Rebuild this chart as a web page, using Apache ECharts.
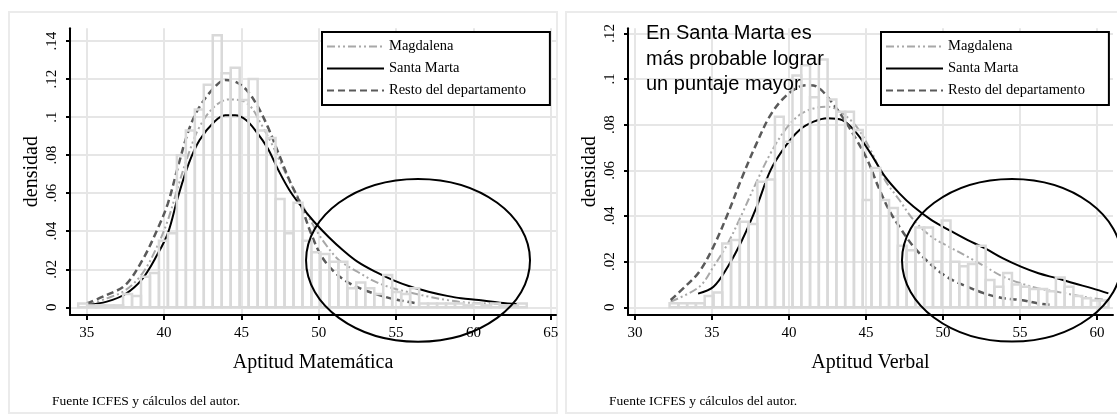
<!DOCTYPE html>
<html>
<head>
<meta charset="utf-8">
<script src="https://cdn.jsdelivr.net/npm/echarts@6/dist/echarts.min.js"></script>
<style>
  html, body { margin: 0; background: #fff; }
  #chart { width: 1117px; height: 417px; }
</style>
</head>
<body>
<div id="chart"></div>
<script>
const seriesNames = ['Magdalena', 'Santa Marta', 'Resto del departamento']

// Aptitud Matemática
const mathTicksX = [35, 40, 45, 50, 55, 60, 65]
const mathTicksY = [0, 0.02, 0.04, 0.06, 0.08, 0.1, 0.12, 0.14]
const mathBinStart = 34.45
const mathBinWidth = 0.58
const mathHist = [0.002, 0.001, 0.001, 0.001, 0.001, 0.007, 0.006, 0.016, 0.018, 0.035,
  0.039, 0.080, 0.093, 0.104, 0.117, 0.143, 0.123, 0.126, 0.109, 0.120,
  0.093, 0.089, 0.057, 0.039, 0.055, 0.035, 0.029, 0.028, 0.024, 0.024,
  0.010, 0.013, 0.010, 0.007, 0.017, 0.008, 0.007, 0.010, 0.002, 0.002,
  0.002, 0.002, 0.002, 0.001, 0.002, 0.001, 0.002, 0.001, 0.001, 0.002]
const mathMagdalena = [[35, 0.0012], [36.3, 0.0047], [37.5, 0.009], [38.6, 0.0178], [39.55, 0.0319],
  [40.25, 0.0459], [40.9, 0.0634], [41.6, 0.081], [42.3, 0.095], [43.25, 0.1055], [44.2, 0.1093],
  [44.9, 0.109], [45.6, 0.1055], [46.25, 0.0967], [46.95, 0.0862], [47.6, 0.0748], [48.3, 0.0634],
  [49.0, 0.0529], [49.7, 0.0424], [50.4, 0.0336], [51.3, 0.0249], [52.5, 0.0187], [53.65, 0.0135],
  [54.8, 0.01], [55.96, 0.0077], [57.1, 0.0056], [58.3, 0.0038], [59.4, 0.0026], [60.6, 0.0021], [61.7, 0.0017]]
const mathSantaMarta = [[35, 0.0012], [36.3, 0.003], [37.5, 0.007], [38.6, 0.015], [39.55, 0.0275],
  [40.25, 0.039], [40.9, 0.058], [41.6, 0.0757], [42.3, 0.088], [43.25, 0.0976], [43.95, 0.101],
  [44.6, 0.101], [45.3, 0.0985], [46.0, 0.092], [46.7, 0.0836], [47.4, 0.072], [48.1, 0.0617],
  [48.8, 0.0538], [49.7, 0.045], [50.64, 0.037], [51.57, 0.030], [52.5, 0.024], [53.65, 0.0187],
  [54.8, 0.0143], [55.96, 0.0108], [57.1, 0.0082], [58.3, 0.006], [59.2, 0.0047], [60.35, 0.0038],
  [61.7, 0.0024], [62.9, 0.0017]]
const mathResto = [[35, 0.002], [36.3, 0.0065], [37.5, 0.0117], [38.6, 0.0248], [39.55, 0.0406],
  [40.25, 0.0547], [40.9, 0.0739], [41.6, 0.0932], [42.3, 0.1055], [43.25, 0.1156], [43.95, 0.1195],
  [44.6, 0.1186], [45.3, 0.1146], [46.0, 0.1064], [46.7, 0.095], [47.4, 0.081], [48.1, 0.0669],
  [48.8, 0.0547], [49.5, 0.0389], [50.2, 0.0266], [51.1, 0.0179], [52.0, 0.0126], [52.96, 0.009],
  [53.9, 0.0065], [54.8, 0.0044], [55.7, 0.003], [56.4, 0.002]]

// Aptitud Verbal
const verbTicksX = [30, 35, 40, 45, 50, 55, 60]
const verbTicksY = [0, 0.02, 0.04, 0.06, 0.08, 0.1, 0.12]
const verbBinStart = 32.25
const verbBinWidth = 0.57
const verbHist = [0.0018, 0.0018, 0.0018, 0.0018, 0.005, 0.0065, 0.028, 0.0295, 0.0375, 0.0365,
  0.055, 0.056, 0.0835, 0.0725, 0.1015, 0.106, 0.092, 0.1085, 0.091, 0.0857,
  0.0857, 0.0777, 0.047, 0.061, 0.047, 0.0435, 0.027, 0.025, 0.035, 0.035,
  0.020, 0.038, 0.020, 0.018, 0.019, 0.027, 0.012, 0.009, 0.015, 0.010,
  0.009, 0.008, 0.008, 0.007, 0.013, 0.009, 0.005, 0.004, 0.003, 0.003]
const verbMagdalena = [[32.32, 0.0025], [34.18, 0.009], [35.1, 0.0178], [36.03, 0.028], [36.96, 0.041],
  [37.9, 0.055], [38.8, 0.0674], [39.74, 0.0776], [40.67, 0.0842], [41.6, 0.0871], [42.5, 0.0879],
  [43.46, 0.085], [44.4, 0.079], [45.3, 0.0689], [46.24, 0.0557], [47.17, 0.047], [48.1, 0.0382],
  [49.26, 0.0309], [50.4, 0.0265], [51.58, 0.0222], [52.74, 0.0178], [53.9, 0.0134], [55.06, 0.0105],
  [56.2, 0.0083], [57.4, 0.0068], [58.5, 0.0054], [59.7, 0.004], [60.63, 0.0032]]
const verbSantaMarta = [[34.1, 0.006], [35.1, 0.009], [36.03, 0.0178], [36.96, 0.0295], [37.9, 0.044],
  [38.8, 0.060], [39.74, 0.0703], [40.67, 0.0776], [41.6, 0.0813], [42.5, 0.0828], [43.46, 0.082],
  [44.4, 0.0762], [45.3, 0.0674], [46.24, 0.0572], [47.17, 0.0499], [48.1, 0.044], [49.26, 0.0382],
  [50.4, 0.0338], [51.58, 0.0295], [52.74, 0.0258], [53.9, 0.0214], [55.06, 0.0178], [56.2, 0.0149],
  [57.4, 0.0127], [58.5, 0.0105], [59.7, 0.0083], [60.74, 0.0061]]
const verbResto = [[32.32, 0.0032], [33.25, 0.009], [34.18, 0.0156], [35.1, 0.0266], [36.03, 0.041],
  [36.96, 0.057], [37.9, 0.0718], [38.8, 0.0842], [39.74, 0.0922], [40.67, 0.0966], [41.25, 0.0973],
  [41.83, 0.0966], [42.5, 0.0922], [43.46, 0.0835], [44.4, 0.0732], [45.1, 0.0645], [45.8, 0.0528],
  [46.5, 0.0426], [47.17, 0.0353], [48.1, 0.0265], [49.26, 0.0185], [50.4, 0.0127], [51.58, 0.009],
  [52.74, 0.006], [53.9, 0.004], [55.06, 0.0032], [56.2, 0.0017], [57.15, 0.001]]

// circled region of each panel: centre and half-axes in data units
const mathCircle = [56.42, 0.0247, 7.24, 0.0428]
const verbCircle = [54.48, 0.0206, 7.14, 0.0356]

const serif = '"Liberation Serif", "DejaVu Serif", serif'
const lineStyles = [
  { color: '#a8a8a8', width: 2, type: [8, 3, 2, 3, 2, 3] },
  { color: '#000', width: 2, type: 'solid' },
  { color: '#5a5a5a', width: 2.5, type: [7, 4] }
]

function bins(start, width, heights) {
  return heights.map((h, i) => [start + i * width, start + (i + 1) * width, h])
}

function yLabel(v) {
  if (v === 0) return '0'
  return String(+v.toFixed(2)).replace(/^0/, '')
}

function xAxis(grid, min, max, ticks, name) {
  return {
    type: 'value', gridIndex: grid, min: min, max: max,
    name: name, nameLocation: 'middle', nameGap: 38,
    nameTextStyle: { fontFamily: serif, fontSize: 20, color: '#000' },
    axisLine: { onZero: false, lineStyle: { color: '#000', width: 2 } },
    axisTick: { customValues: ticks, length: 5, lineStyle: { color: '#000', width: 2 } },
    axisLabel: {
      customValues: ticks, margin: 11, fontFamily: serif, fontSize: 15, color: '#000',
      formatter: v => ticks.indexOf(v) >= 0 ? String(v) : ''
    },
    splitLine: { show: true, lineStyle: { color: '#e6e6e6', width: 2 } }
  }
}

function yAxis(grid, min, max, ticks) {
  return {
    type: 'value', gridIndex: grid, min: min, max: max,
    name: 'densidad', nameLocation: 'middle', nameGap: 28,
    nameTextStyle: { fontFamily: serif, fontSize: 20, color: '#000' },
    axisLine: { show: true, onZero: false, lineStyle: { color: '#000', width: 2 } },
    axisTick: { show: true, customValues: ticks, length: 4, lineStyle: { color: '#000', width: 2 } },
    axisLabel: {
      customValues: ticks, rotate: 90, margin: 10, fontFamily: serif, fontSize: 15, color: '#000',
      formatter: v => ticks.some(t => Math.abs(t - v) < 1e-9) ? yLabel(v) : ''
    },
    splitLine: { show: true, lineStyle: { color: '#e6e6e6', width: 2 } }
  }
}

function histSeries(idx, data) {
  return {
    type: 'custom', xAxisIndex: idx, yAxisIndex: idx, data: data,
    encode: { x: [0, 1], y: 2 }, z: 3, silent: true,
    renderItem: function (params, api) {
      const p0 = api.coord([api.value(0), api.value(2)])
      const p1 = api.coord([api.value(1), 0])
      return {
        type: 'rect',
        shape: { x: p0[0], y: p0[1], width: p1[0] - p0[0], height: p1[1] - p0[1] },
        style: { fill: 'none', stroke: '#d9d9d9', lineWidth: 2.5 }
      }
    }
  }
}

function curve(idx, k, data) {
  return {
    type: 'line', name: seriesNames[k], xAxisIndex: idx, yAxisIndex: idx,
    data: data, symbol: 'none', showSymbol: false, smooth: 0.35, z: 2, silent: true,
    lineStyle: lineStyles[k], itemStyle: { color: lineStyles[k].color }
  }
}

function legend(left) {
  return {
    orient: 'vertical', left: left, top: 32, selectedMode: false,
    data: seriesNames, itemWidth: 57, itemHeight: 14, itemGap: 7,
    itemStyle: { opacity: 0 },
    padding: [7, 24, 7, 4], borderColor: '#000', borderWidth: 2, backgroundColor: '#fff',
    textStyle: { fontFamily: serif, fontSize: 14.5, color: '#000' }
  }
}

const chart = echarts.init(document.getElementById('chart'), null, { renderer: 'canvas' })
chart.setOption({
  animation: false,
  backgroundColor: '#fff',
  grid: [
    { left: 70, top: 28.3, width: 486, height: 286.7 },
    { left: 628, top: 28.3, width: 485, height: 286.7 }
  ],
  xAxis: [
    xAxis(0, 33.92, 65.34, mathTicksX, 'Aptitud Matemática'),
    xAxis(1, 29.55, 61.04, verbTicksX, 'Aptitud Verbal')
  ],
  yAxis: [
    yAxis(0, -0.00405, 0.1467, mathTicksY),
    yAxis(1, -0.00337, 0.1222, verbTicksY)
  ],
  legend: [legend(322), legend(881)],
  series: [
    curve(0, 0, mathMagdalena), curve(0, 1, mathSantaMarta), curve(0, 2, mathResto),
    histSeries(0, bins(mathBinStart, mathBinWidth, mathHist)),
    curve(1, 0, verbMagdalena), curve(1, 1, verbSantaMarta), curve(1, 2, verbResto),
    histSeries(1, bins(verbBinStart, verbBinWidth, verbHist))
  ]
})

function ellipse(gridIndex, c) {
  const p = chart.convertToPixel({ gridIndex: gridIndex }, [c[0], c[1]])
  const q = chart.convertToPixel({ gridIndex: gridIndex }, [c[0] + c[2], c[1] + c[3]])
  return {
    type: 'ellipse', z: 100,
    shape: { cx: p[0], cy: p[1], rx: q[0] - p[0], ry: p[1] - q[1] },
    style: { fill: 'none', stroke: '#000', lineWidth: 2 }
  }
}

chart.setOption({
  graphic: [
    { type: 'rect', z: -10, shape: { x: 9, y: 12, width: 548, height: 401 },
      style: { fill: 'none', stroke: '#ebebeb', lineWidth: 2 } },
    { type: 'rect', z: -10, shape: { x: 566, y: 12, width: 560, height: 401 },
      style: { fill: 'none', stroke: '#ebebeb', lineWidth: 2 } },
    { type: 'text', x: 646, y: 21, z: 50,
      style: { text: 'En Santa Marta es\nmás probable lograr\nun puntaje mayor',
        font: '20px "Liberation Sans", Arial, sans-serif', lineHeight: 25.5, fill: '#000' } },
    { type: 'text', x: 52, y: 394,
      style: { text: 'Fuente ICFES y cálculos del autor.', font: '13.5px ' + serif, fill: '#000' } },
    { type: 'text', x: 609, y: 394,
      style: { text: 'Fuente ICFES y cálculos del autor.', font: '13.5px ' + serif, fill: '#000' } },
    ellipse(0, mathCircle),
    ellipse(1, verbCircle)
  ]
})
</script>
</body>
</html>
